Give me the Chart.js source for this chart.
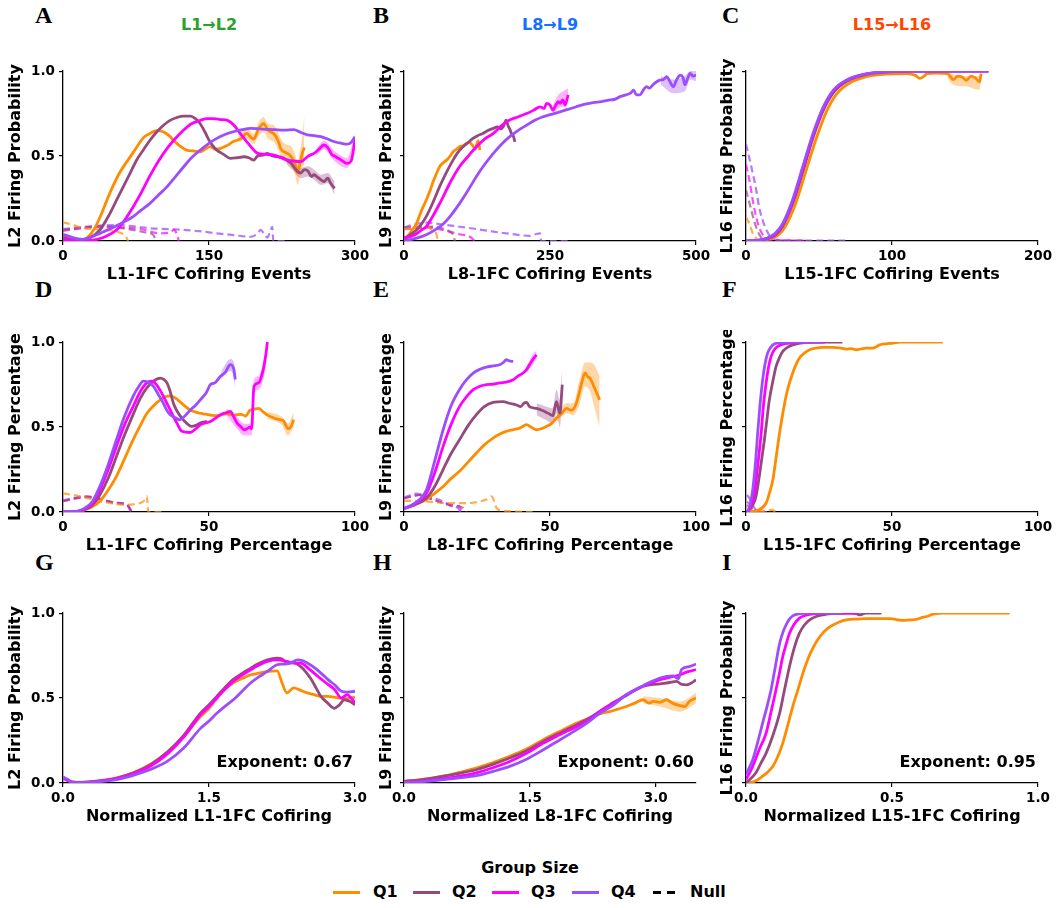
<!DOCTYPE html>
<html>
<head>
<meta charset="utf-8">
<script src="https://cdn.jsdelivr.net/npm/chart.js@4.4.0/dist/chart.umd.min.js"></script>
<style>
body { margin:0; background:#fff; }
#fig { position:relative; width:1058px; height:908px; overflow:hidden; font-family:'DejaVu Sans'; }
canvas { position:absolute; }
.let { position:absolute; font-family:'Liberation Serif'; font-weight:bold; font-size:24px; line-height:24px; }
.col { position:absolute; top:17px; font-weight:bold; font-size:16px; line-height:16px; transform:translateX(-50%); }
.txt { position:absolute; font-weight:bold; font-size:16px; line-height:16px; }
.ls { position:absolute; top:891px; height:3px; width:27px; }
.dash { position:absolute; top:891px; height:3px; width:8px; background:#000; }
</style>
</head>
<body>
<div id="fig">
  <div class="let" style="left:35px;top:3px">A</div>
  <div class="let" style="left:373px;top:3px">B</div>
  <div class="let" style="left:722px;top:3px">C</div>
  <div class="let" style="left:35px;top:277px">D</div>
  <div class="let" style="left:373px;top:277px">E</div>
  <div class="let" style="left:722px;top:277px">F</div>
  <div class="let" style="left:35px;top:550px">G</div>
  <div class="let" style="left:373px;top:550px">H</div>
  <div class="let" style="left:722px;top:550px">I</div>

  <div class="col" style="left:209px;color:#2ca02c">L1→L2</div>
  <div class="col" style="left:550px;color:#1570ff">L8→L9</div>
  <div class="col" style="left:892px;color:#ff4500">L15→L16</div>

  <div class="txt" style="left:530px;top:860px;transform:translateX(-50%)">Group Size</div>
  <div class="ls" style="left:333px;background:#ff8c00"></div>
  <div class="txt" style="left:373px;top:884px">Q1</div>
  <div class="ls" style="left:413px;background:#954a7d"></div>
  <div class="txt" style="left:452px;top:884px">Q2</div>
  <div class="ls" style="left:492px;background:#ff00ff"></div>
  <div class="txt" style="left:531px;top:884px">Q3</div>
  <div class="ls" style="left:572px;background:#9b4dff"></div>
  <div class="txt" style="left:611px;top:884px">Q4</div>
  <div class="dash" style="left:653px"></div>
  <div class="dash" style="left:667px"></div>
  <div class="txt" style="left:690px;top:884px">Null</div>
</div>
<script>
// group colours Q1..Q4
const COLORS = ['#ff8c00', '#954a7d', '#ff00ff', '#9b4dff'];
const NULL_COLORS = ['rgba(255,140,0,0.7)', 'rgba(149,74,125,0.7)', 'rgba(255,0,255,0.7)', 'rgba(155,77,255,0.75)'];
const BAND_COLORS = ['rgba(255,140,0,0.35)', 'rgba(149,74,125,0.35)', 'rgba(255,0,255,0.3)', 'rgba(155,77,255,0.35)'];

// ---- A: L1->L2 cofiring events
const aQ1 = [[0,0.03],[8,0.01],[15,0.0],[25,0.02],[32,0.07],[38,0.14],[48,0.28],[58,0.40],[66,0.47],[72,0.52],[83,0.61],[90,0.635],[96,0.65],[103,0.643],[109,0.62],[114,0.59],[120,0.56],[127,0.535],[134,0.53],[141,0.525],[146,0.54],[151,0.555],[157,0.54],[162,0.545],[168,0.56],[175,0.585],[182,0.6],[189,0.633],[193,0.61],[196,0.6],[201,0.66],[206,0.69],[211,0.65],[217,0.63],[221,0.59],[224,0.54],[229,0.52],[234,0.5],[238,0.46],[241,0.4],[244,0.47],[246,0.52],[248,0.55]];
const aQ2 = [[0,0.02],[15,0.0],[28,0.02],[38,0.065],[48,0.16],[55,0.24],[62,0.32],[69,0.4],[76,0.48],[83,0.54],[89,0.59],[96,0.64],[103,0.68],[110,0.71],[117,0.727],[124,0.735],[131,0.735],[136,0.72],[141,0.69],[146,0.64],[150,0.594],[154,0.56],[158,0.535],[165,0.51],[172,0.486],[179,0.49],[186,0.496],[191,0.49],[196,0.476],[200,0.5],[205,0.505],[210,0.516],[215,0.5],[220,0.496],[226,0.49],[231,0.47],[234,0.46],[237,0.437],[241,0.41],[244,0.4],[248,0.42],[252,0.41],[255,0.38],[258,0.39],[261,0.378],[265,0.36],[268,0.35],[272,0.37],[275,0.34],[279,0.31]];
const aQ3 = [[0,0.01],[15,0.0],[35,0.01],[45,0.03],[55,0.065],[63,0.12],[72,0.2],[80,0.28],[89,0.38],[98,0.47],[107,0.545],[115,0.6],[124,0.653],[132,0.69],[141,0.71],[148,0.72],[155,0.72],[162,0.715],[169,0.71],[176,0.68],[182,0.633],[188,0.59],[193,0.555],[197,0.53],[200,0.516],[208,0.51],[217,0.506],[224,0.49],[231,0.476],[238,0.47],[244,0.467],[248,0.48],[252,0.5],[258,0.516],[263,0.54],[268,0.565],[272,0.55],[276,0.51],[279,0.5],[285,0.48],[292,0.457],[296,0.47],[300,0.594]];
const aQ4 = [[0,0.04],[10,0.02],[20,0.01],[30,0.025],[38,0.045],[55,0.09],[72,0.143],[80,0.18],[89,0.22],[98,0.27],[107,0.32],[115,0.375],[124,0.437],[132,0.49],[141,0.535],[150,0.575],[158,0.604],[167,0.628],[175,0.643],[184,0.655],[193,0.663],[202,0.66],[210,0.657],[218,0.655],[227,0.653],[237,0.655],[244,0.64],[251,0.624],[258,0.62],[265,0.614],[272,0.6],[279,0.584],[286,0.575],[292,0.57],[296,0.58],[300,0.614]];
const aN1 = [[0,0.11],[10,0.095],[21,0.075],[32,0.07],[45,0.065],[58,0.05],[64,0.03],[67,0.0]];
const aN2 = [[0,0.065],[15,0.075],[38,0.085],[55,0.08],[72,0.065],[85,0.05],[92,0.04],[96,0.0]];
const aN3 = [[0,0.06],[20,0.075],[38,0.085],[60,0.08],[80,0.07],[100,0.045],[110,0.05],[114,0.065],[117,0.04],[119,0.0]];
const aN4 = [[0,0.07],[25,0.085],[55,0.094],[75,0.085],[89,0.075],[110,0.07],[124,0.065],[140,0.058],[158,0.045],[175,0.035],[193,0.025],[200,0.045],[203,0.065],[207,0.04],[210,0.02],[213,0.06],[215,0.084],[216,0.0],[231,0.0]];
// error bands: [x, low, high]
const aB1 = [[180,0.58,0.64],[189,0.6,0.67],[196,0.57,0.63],[201,0.62,0.7],[206,0.64,0.73],[211,0.6,0.69],[217,0.58,0.68],[221,0.54,0.64],[224,0.49,0.6],[229,0.47,0.57],[234,0.44,0.56],[238,0.4,0.52],[241,0.33,0.47],[244,0.4,0.55],[246,0.44,0.62],[248,0.45,0.75]];
const aB2 = [[230,0.45,0.49],[237,0.41,0.47],[244,0.37,0.43],[252,0.38,0.44],[258,0.36,0.42],[265,0.33,0.39],[272,0.34,0.4],[279,0.27,0.35]];
const aB3 = [[260,0.5,0.54],[268,0.54,0.59],[279,0.47,0.53],[292,0.43,0.49],[300,0.56,0.63]];

// ---- B: L8->L9 cofiring events
const bQ1 = [[0,0.02],[5,0.025],[10,0.045],[15,0.07],[21,0.10],[30,0.18],[38,0.24],[45,0.30],[50,0.35],[56,0.40],[61,0.437],[67,0.46],[73,0.476],[79,0.50],[84,0.525],[90,0.54],[95,0.555],[101,0.56],[107,0.575],[112,0.58],[118,0.56],[122,0.54],[125,0.575],[127,0.59],[130,0.535]];
const bQ2 = [[0,0.01],[10,0.035],[20,0.06],[30,0.1],[38,0.143],[50,0.23],[61,0.32],[72,0.40],[84,0.476],[92,0.52],[101,0.555],[110,0.58],[118,0.604],[126,0.62],[135,0.633],[144,0.65],[153,0.663],[160,0.672],[165,0.66],[170,0.673],[175,0.712],[178,0.68],[181,0.66],[184,0.633],[187,0.62],[190,0.584]];
const bQ3 = [[0,0.02],[10,0.025],[20,0.04],[30,0.065],[38,0.084],[50,0.15],[58,0.2],[67,0.26],[80,0.35],[95,0.437],[110,0.5],[124,0.555],[138,0.6],[153,0.633],[167,0.68],[181,0.712],[195,0.73],[210,0.75],[222,0.77],[233,0.79],[240,0.78],[244,0.81],[250,0.8],[255,0.77],[260,0.8],[264,0.82],[267,0.81],[272,0.83],[276,0.8],[281,0.86]];
const bQ4 = [[0,0.0],[20,0.015],[40,0.04],[55,0.07],[67,0.10],[80,0.15],[95,0.22],[110,0.30],[124,0.38],[138,0.45],[153,0.516],[167,0.57],[181,0.614],[195,0.65],[210,0.682],[224,0.71],[238,0.731],[252,0.745],[267,0.76],[281,0.775],[295,0.79],[310,0.805],[324,0.815],[338,0.82],[353,0.83],[362,0.835],[370,0.85],[380,0.86],[388,0.87],[393,0.888],[398,0.86],[404,0.86],[410,0.89],[415,0.908],[420,0.9],[428,0.925],[438,0.947],[444,0.95],[450,0.967],[455,0.94],[461,0.908],[467,0.95],[473,0.976],[478,0.96],[481,0.92],[485,0.95],[490,0.986],[495,0.97],[500,0.976]];
const bN1 = [[0,0.07],[15,0.075],[30,0.082],[38,0.084],[48,0.065],[55,0.045],[58,0.0]];
const bN2 = [[0,0.08],[20,0.085],[50,0.084],[65,0.075],[78,0.055],[85,0.03],[87,0.0]];
const bN3 = [[0,0.07],[20,0.075],[38,0.08],[60,0.07],[78,0.055],[95,0.04],[113,0.025],[121,0.0]];
const bN4 = [[0,0.08],[20,0.1],[38,0.108],[60,0.1],[95,0.084],[125,0.07],[153,0.055],[175,0.045],[198,0.035],[215,0.03],[225,0.04],[233,0.045],[235,0.0],[281,0.0]];
const bB3 = [[255,0.74,0.8],[264,0.78,0.86],[272,0.79,0.88],[281,0.82,0.9]];
const bB4 = [[440,0.92,0.97],[461,0.87,0.95],[481,0.88,0.97],[490,0.95,1.0],[500,0.94,1.0]];

// ---- C: L15->L16 cofiring events
const cQ1 = [[0,0.0],[10,0.003],[16,0.012],[22,0.035],[27,0.085],[34,0.22],[41,0.41],[48,0.6],[55,0.76],[62,0.865],[71,0.93],[84,0.97],[96,0.982],[110,0.985],[116,0.975],[119,0.957],[122,0.97],[124,0.985],[130,0.988],[138,0.985],[142,0.95],[145,0.97],[148,0.965],[151,0.945],[154,0.97],[157,0.96],[160,0.937],[161,0.985]];
const cQ2 = [[0,0.0],[7,0.002],[14,0.012],[20,0.035],[25,0.085],[32,0.22],[39,0.41],[46,0.61],[53,0.77],[60,0.875],[69,0.94],[82,0.98],[96,0.995],[110,0.999],[166,1.0]];
const cQ3 = [[0,0.0],[7,0.003],[14,0.014],[20,0.04],[25,0.095],[32,0.235],[39,0.43],[46,0.625],[53,0.785],[60,0.885],[69,0.946],[82,0.982],[96,0.996],[110,1.0],[166,1.0]];
const cQ4 = [[0,0.0],[7,0.003],[14,0.016],[20,0.045],[25,0.10],[32,0.245],[39,0.44],[46,0.635],[53,0.79],[60,0.89],[69,0.948],[82,0.983],[96,0.996],[110,1.0],[166,1.0]];
const cN1 = [[0,0.14],[2.5,0.1],[4.6,0.045],[7,0.015],[8,0.0]];
const cN2 = [[0,0.3],[2.5,0.22],[4.6,0.15],[7,0.08],[9,0.04],[12,0.01],[25,0.0]];
const cN3 = [[0,0.45],[2.5,0.35],[4.6,0.24],[7,0.14],[9,0.08],[12,0.03],[15,0.01],[40,0.002]];
const cN4 = [[0,0.57],[2.5,0.48],[4.6,0.40],[7,0.3],[9,0.2],[11.5,0.12],[14,0.065],[18,0.015],[25,0.005],[70,0.002]];
const cB1 = [[138,0.96,1.0],[142,0.92,0.98],[151,0.91,0.97],[160,0.89,0.97],[161,0.95,1.0]];

// ---- D: L1->L2 cofiring percentage
const dQ1 = [[0,0.0],[5,0.002],[7,0.01],[10,0.03],[12.6,0.063],[15.5,0.13],[18.3,0.21],[21,0.31],[24,0.425],[26.5,0.51],[28.7,0.58],[31,0.625],[33.3,0.66],[35,0.678],[36.7,0.684],[38.5,0.67],[40,0.65],[42,0.62],[43.6,0.6],[46,0.585],[48,0.578],[50.5,0.57],[52.8,0.567],[54.5,0.575],[56,0.578],[58.5,0.57],[61,0.575],[62.5,0.565],[64,0.598],[65.5,0.605],[67,0.61],[68.5,0.59],[70,0.57],[72,0.555],[73.4,0.547],[75,0.54],[75.7,0.533],[76.3,0.51],[77,0.49],[78,0.5],[79,0.543]];
const dQ2 = [[0,0.0],[5,0.003],[7,0.012],[10,0.04],[12.6,0.1],[15.5,0.2],[18.3,0.327],[21,0.45],[24,0.573],[26.5,0.67],[28.7,0.73],[31,0.77],[33.3,0.788],[34.5,0.78],[35.6,0.76],[36.7,0.71],[37.8,0.64],[39.2,0.59],[40.7,0.553],[42.5,0.52],[44,0.504],[45.5,0.51],[47,0.524],[49.3,0.533]];
const dQ3 = [[0,0.0],[5,0.004],[7,0.015],[10,0.05],[12.6,0.13],[15.5,0.25],[18.3,0.386],[21,0.51],[24,0.62],[26.5,0.71],[28.7,0.76],[30.3,0.77],[32,0.75],[33.8,0.7],[35.6,0.64],[37.3,0.58],[39,0.523],[40.7,0.475],[43.6,0.468],[45.5,0.49],[47,0.513],[50.5,0.533],[54,0.573],[56,0.585],[57.3,0.592],[58.5,0.56],[59.6,0.524],[61,0.5],[62,0.484],[63,0.49],[64,0.5],[64.6,0.49],[65.4,0.74],[67,0.76],[68,0.8],[68.8,0.857],[69.5,0.93],[70,1.0]];
const dQ4 = [[0,0.0],[5,0.005],[7,0.018],[10,0.06],[12.6,0.15],[15.5,0.28],[18.3,0.425],[21,0.56],[24,0.68],[26,0.74],[27.5,0.77],[29,0.765],[31,0.74],[32.7,0.69],[34.4,0.64],[35.5,0.6],[36.7,0.573],[38.5,0.555],[40,0.543],[42,0.57],[43.6,0.6],[45.5,0.63],[47,0.66],[49,0.7],[50.5,0.75],[52,0.76],[54,0.8],[55.5,0.82],[57.3,0.867],[58.5,0.84],[59,0.78]];
const dN1 = [[0,0.11],[5,0.095],[10,0.075],[12.6,0.063],[17,0.05],[21.8,0.043],[24,0.045],[26.4,0.053],[28,0.07],[28.7,0.092],[29.2,0.0],[35,0.0]];
const dN2 = [[0,0.065],[4,0.08],[8,0.09],[12,0.08],[15,0.065],[18.3,0.053],[21.8,0.045],[23.5,0.0]];
const dN3 = [[0,0.063],[4,0.078],[8,0.088],[12,0.078],[15,0.064],[18.3,0.052],[21.8,0.044],[23.3,0.0]];
const dN4 = [[0,0.068],[4,0.083],[8,0.092],[12,0.082],[15,0.066],[18.3,0.055],[21.8,0.046],[23.7,0.0]];
const dB1 = [[70,0.55,0.59],[75,0.51,0.56],[77,0.45,0.52],[79,0.5,0.59]];
const dB3 = [[56,0.57,0.61],[59.6,0.49,0.56],[62,0.45,0.52],[64.6,0.45,0.52],[65.4,0.7,0.78],[67,0.72,0.8],[68.8,0.8,0.9],[70,0.96,1.0]];
const dB4 = [[54,0.78,0.82],[57.3,0.83,0.9],[58.5,0.79,0.88],[59,0.72,0.83]];

// ---- E: L8->L9 cofiring percentage
const eQ1 = [[0,0.02],[4,0.045],[7.7,0.073],[10.5,0.11],[13.4,0.15],[16,0.195],[19,0.24],[22,0.295],[24.8,0.347],[27.5,0.395],[30.5,0.435],[33,0.46],[35,0.475],[37.5,0.485],[39.7,0.494],[42,0.514],[43.5,0.5],[45.4,0.484],[47,0.49],[48.8,0.504],[50.5,0.52],[52.2,0.553],[54,0.58],[55.7,0.61],[57,0.6],[58,0.605],[59,0.64],[60,0.7],[61,0.77],[62,0.818],[63,0.795],[63.7,0.788],[65,0.74],[66,0.7],[67,0.66]];
const eQ2 = [[0,0.02],[4,0.045],[7.7,0.082],[10.5,0.15],[13.4,0.25],[16,0.34],[19,0.425],[22,0.51],[24.8,0.573],[27.5,0.62],[30.5,0.645],[34,0.65],[36,0.64],[38.5,0.63],[40,0.62],[41,0.64],[42,0.645],[43,0.62],[45.4,0.61],[47,0.6],[48.8,0.586],[50,0.575],[51,0.567],[51.5,0.6],[52.2,0.65],[53,0.6],[53.4,0.582],[54.2,0.75]];
const eQ3 = [[0,0.02],[4,0.05],[7.7,0.11],[10.5,0.23],[13.4,0.386],[16,0.51],[19,0.62],[21.5,0.68],[23.7,0.72],[26,0.74],[28.2,0.75],[30.5,0.752],[32.8,0.76],[35,0.765],[37.4,0.778],[39,0.8],[40.8,0.818],[42,0.84],[43,0.867],[44.2,0.9],[45.4,0.925]];
const eQ4 = [[0,0.02],[4,0.055],[7.7,0.13],[10.5,0.3],[13.4,0.484],[16,0.62],[19,0.72],[21.5,0.78],[23.7,0.818],[26,0.84],[28.2,0.853],[30.5,0.86],[32.8,0.867],[34,0.88],[35,0.896],[36,0.89],[37.4,0.886]];
const eN1 = [[0,0.065],[5,0.065],[9,0.06],[13.4,0.053],[18,0.052],[22.5,0.053],[26,0.062],[28.2,0.073],[30,0.092],[31.7,0.024],[32.8,0.01],[44,0.0]];
const eN2 = [[0,0.08],[5.4,0.1],[9,0.08],[13.4,0.053],[17,0.04],[20.2,0.024],[21.4,0.0]];
const eN3 = [[0,0.08],[5.4,0.1],[9,0.078],[13.4,0.053],[17,0.035],[19,0.033],[19.7,0.0]];
const eN4 = [[0,0.085],[4.2,0.108],[8,0.09],[13.4,0.063],[17,0.03],[18.5,0.024],[19.2,0.0]];
const eB1 = [[52.2,0.53,0.58],[55.7,0.58,0.64],[58,0.57,0.64],[60,0.63,0.77],[62,0.74,0.88],[63.7,0.71,0.88],[65,0.63,0.87],[67,0.5,0.8]];
const eB2 = [[45.4,0.57,0.64],[48.8,0.54,0.62],[51,0.52,0.61],[52.2,0.58,0.72],[53.4,0.5,0.66],[54.2,0.68,0.85]];
const eB3 = [[42,0.82,0.86],[43,0.84,0.89],[44.2,0.87,0.93],[45.4,0.9,0.95]];

// ---- F: L15->L16 cofiring percentage
const fQ1 = [[1,0.0],[4,0.01],[6.9,0.053],[8,0.11],[9.2,0.19],[10.3,0.32],[11.5,0.465],[12.6,0.58],[13.7,0.68],[14.8,0.755],[16,0.818],[17.2,0.87],[18.3,0.906],[20,0.935],[21.8,0.955],[24,0.965],[26.3,0.969],[29.8,0.969],[32,0.966],[34.4,0.959],[36,0.962],[37.8,0.955],[39.5,0.96],[41.2,0.965],[43.5,0.965],[45.8,0.984],[48,0.99],[50.4,0.994],[52.7,1.0],[67.4,1.0]];
const fQ2 = [[0.5,0.0],[2.3,0.04],[3.4,0.09],[4.8,0.24],[6.3,0.425],[7.2,0.55],[8,0.66],[9.2,0.77],[10.3,0.857],[11.5,0.91],[12.6,0.945],[14.3,0.97],[16,0.984],[20.6,0.998],[25,1.0],[33,1.0]];
const fQ3 = [[0.5,0.0],[2,0.05],[2.9,0.11],[4,0.27],[5.2,0.465],[6,0.63],[6.9,0.76],[7.7,0.85],[8.6,0.916],[9.7,0.955],[10.9,0.975],[12.6,0.988],[14.9,0.994],[18,1.0],[27,1.0]];
const fQ4 = [[0.5,0.0],[1.5,0.05],[2.3,0.13],[3.2,0.28],[4,0.465],[4.8,0.63],[5.7,0.778],[6.5,0.87],[7.4,0.935],[8.3,0.965],[9.2,0.984],[10.9,0.995],[12.6,0.998],[16,1.0],[26,1.0]];
const fN1 = [[0.3,0.01],[4,0.005],[8,0.01],[9,0.012],[10,0.003],[11,0.0]];
const fN2 = [[0.3,0.04],[1.5,0.03],[2.5,0.01],[4,0.0]];
const fN3 = [[0.3,0.06],[1.2,0.05],[2.3,0.03],[3.5,0.008],[5,0.0]];
const fN4 = [[0.3,0.1],[1.2,0.08],[2.3,0.04],[3.5,0.01],[5,0.0],[8,0.0]];

// ---- G: L1->L2 normalized cofiring
const gQ1 = [[0,0.03],[0.05,0.015],[0.1,0.005],[0.2,0.005],[0.38,0.014],[0.55,0.03],[0.72,0.06],[0.9,0.11],[1.07,0.18],[1.24,0.275],[1.41,0.39],[1.5,0.44],[1.58,0.5],[1.66,0.55],[1.75,0.59],[1.84,0.615],[1.93,0.637],[2.0,0.645],[2.1,0.657],[2.2,0.66],[2.25,0.59],[2.3,0.53],[2.37,0.56],[2.44,0.545],[2.51,0.53],[2.58,0.52],[2.65,0.51],[2.72,0.51],[2.79,0.505],[2.86,0.5],[2.92,0.5],[3.0,0.505]];
const gQ2 = [[0,0.03],[0.05,0.015],[0.1,0.005],[0.2,0.004],[0.38,0.012],[0.55,0.028],[0.72,0.058],[0.9,0.108],[1.07,0.18],[1.24,0.28],[1.41,0.41],[1.5,0.46],[1.58,0.51],[1.66,0.56],[1.75,0.61],[1.84,0.645],[1.93,0.676],[2.0,0.7],[2.1,0.725],[2.2,0.735],[2.25,0.73],[2.3,0.706],[2.36,0.71],[2.44,0.686],[2.5,0.65],[2.55,0.61],[2.6,0.56],[2.65,0.51],[2.72,0.47],[2.79,0.44],[2.84,0.46],[2.89,0.49],[2.95,0.48],[3.0,0.46]];
const gQ3 = [[0,0.03],[0.05,0.015],[0.1,0.004],[0.2,0.004],[0.38,0.011],[0.55,0.026],[0.72,0.054],[0.9,0.1],[1.07,0.17],[1.24,0.27],[1.41,0.4],[1.5,0.45],[1.58,0.5],[1.66,0.55],[1.75,0.598],[1.84,0.635],[1.93,0.667],[2.0,0.69],[2.1,0.716],[2.2,0.725],[2.3,0.716],[2.37,0.705],[2.44,0.706],[2.53,0.67],[2.62,0.627],[2.7,0.59],[2.79,0.55],[2.86,0.5],[2.92,0.52],[2.96,0.5],[3.0,0.47]];
const gQ4 = [[0,0.035],[0.05,0.02],[0.1,0.005],[0.2,0.003],[0.38,0.008],[0.55,0.02],[0.72,0.045],[0.9,0.08],[1.07,0.127],[1.24,0.206],[1.41,0.32],[1.5,0.365],[1.58,0.41],[1.66,0.45],[1.75,0.49],[1.84,0.54],[1.93,0.59],[2.0,0.62],[2.1,0.657],[2.2,0.696],[2.27,0.7],[2.34,0.706],[2.41,0.725],[2.46,0.72],[2.51,0.706],[2.58,0.68],[2.65,0.647],[2.72,0.61],[2.79,0.578],[2.86,0.54],[2.92,0.535],[3.0,0.54]];

// ---- H: L8->L9 normalized cofiring
const hQ1 = [[0,0.01],[0.2,0.02],[0.47,0.04],[0.66,0.062],[0.86,0.088],[1.06,0.12],[1.26,0.157],[1.46,0.2],[1.66,0.255],[1.86,0.305],[2.06,0.353],[2.25,0.39],[2.35,0.41],[2.45,0.42],[2.55,0.435],[2.65,0.45],[2.75,0.47],[2.85,0.49],[2.92,0.47],[2.97,0.48],[3.05,0.475],[3.13,0.49],[3.2,0.47],[3.29,0.455],[3.35,0.45],[3.4,0.48],[3.48,0.5]];
const hQ2 = [[0,0.01],[0.2,0.018],[0.47,0.04],[0.66,0.057],[0.86,0.078],[1.06,0.11],[1.26,0.147],[1.46,0.19],[1.66,0.245],[1.86,0.295],[2.06,0.343],[2.25,0.395],[2.45,0.46],[2.65,0.515],[2.85,0.57],[3.05,0.584],[3.15,0.59],[3.25,0.598],[3.31,0.58],[3.37,0.578],[3.43,0.59],[3.48,0.608]];
const hQ3 = [[0,0.005],[0.2,0.01],[0.47,0.025],[0.66,0.04],[0.86,0.06],[1.06,0.09],[1.26,0.127],[1.46,0.175],[1.66,0.235],[1.86,0.285],[2.06,0.333],[2.2,0.37],[2.33,0.42],[2.5,0.47],[2.65,0.52],[2.85,0.57],[3.05,0.608],[3.21,0.627],[3.29,0.637],[3.35,0.65],[3.48,0.667]];
const hQ4 = [[0,0.003],[0.2,0.007],[0.47,0.02],[0.66,0.03],[0.86,0.043],[1.06,0.068],[1.26,0.098],[1.46,0.14],[1.66,0.196],[1.86,0.255],[2.06,0.314],[2.2,0.36],[2.33,0.41],[2.5,0.46],[2.65,0.52],[2.85,0.573],[3.05,0.618],[3.21,0.63],[3.27,0.614],[3.31,0.67],[3.4,0.685],[3.48,0.7]];
const hB1 = [[2.85,0.47,0.51],[3.05,0.45,0.5],[3.29,0.42,0.48],[3.48,0.47,0.53]];

// ---- I: L15->L16 normalized cofiring
const iQ1 = [[0,0.0],[0.03,0.01],[0.057,0.04],[0.075,0.065],[0.092,0.098],[0.11,0.16],[0.126,0.235],[0.143,0.34],[0.16,0.45],[0.178,0.55],[0.195,0.647],[0.212,0.73],[0.229,0.794],[0.246,0.845],[0.263,0.882],[0.28,0.91],[0.298,0.93],[0.32,0.948],[0.344,0.96],[0.38,0.965],[0.412,0.967],[0.45,0.967],[0.493,0.967],[0.515,0.962],[0.538,0.957],[0.56,0.96],[0.584,0.963],[0.6,0.972],[0.619,0.98],[0.641,0.994],[0.676,1.0],[0.903,1.0]];
const iQ2 = [[0,0.0],[0.034,0.06],[0.052,0.12],[0.069,0.176],[0.092,0.28],[0.115,0.41],[0.132,0.55],[0.149,0.686],[0.166,0.8],[0.183,0.882],[0.2,0.93],[0.218,0.96],[0.24,0.98],[0.263,0.99],[0.3,0.998],[0.36,1.0],[0.38,0.995],[0.39,0.99],[0.41,1.0],[0.464,1.0]];
const iQ3 = [[0,0.02],[0.023,0.098],[0.046,0.2],[0.069,0.294],[0.086,0.42],[0.103,0.55],[0.115,0.65],[0.126,0.745],[0.138,0.82],[0.149,0.882],[0.165,0.935],[0.183,0.97],[0.2,0.985],[0.229,0.996],[0.26,1.0],[0.384,1.0]];
const iQ4 = [[0,0.05],[0.023,0.137],[0.04,0.24],[0.057,0.353],[0.072,0.45],[0.086,0.55],[0.1,0.68],[0.115,0.82],[0.126,0.885],[0.137,0.93],[0.148,0.963],[0.16,0.984],[0.18,0.995],[0.206,1.0],[0.33,1.0]];

// small text plugin for the "Exponent" note
const expPlugin = {
    id: 'expText',
    afterDraw(chart, args, opts) {
        if (!opts.text) return;
        const {ctx, chartArea} = chart;
        ctx.save();
        ctx.font = 'bold 16px "DejaVu Sans"';
        ctx.fillStyle = '#000';
        ctx.textAlign = 'right';
        ctx.textBaseline = 'middle';
        ctx.fillText(opts.text, chartArea.right - 2, chartArea.bottom - 20);
        ctx.restore();
    }
};

Chart.defaults.font.family = "'DejaVu Sans'";
Chart.defaults.color = '#000';

const COL_LEFT = [63, 404, 746];
const ROW_TOP = [71, 342, 613];
const YTITLE_PAD = [6.4, 36.4, 35.4];

function toPts(arr) { return arr.map(p => ({x: p[0], y: p[1]})); }

function makePanel(p) {
    const cv = document.createElement('canvas');
    cv.width = 377;
    cv.height = 227;
    cv.style.left = (COL_LEFT[p.col] - 63) + 'px';
    cv.style.top = (ROW_TOP[p.row] - 12) + 'px';
    document.getElementById('fig').appendChild(cv);

    const datasets = [];
    // Q4 first so it is drawn on top
    for (let i = 3; i >= 0; i--) {
        datasets.push({
            data: toPts(p.series[i]),
            borderColor: COLORS[i],
            borderWidth: 2.8,
            pointRadius: 0,
            cubicInterpolationMode: 'monotone',
            fill: false
        });
    }
    // shaded error bands (low line, then high line filled down to it)
    (p.bands || []).forEach(b => {
        const gi = b[0];
        datasets.push({
            data: b[1].map(r => ({x: r[0], y: r[1]})),
            borderWidth: 0,
            borderColor: 'rgba(0,0,0,0)',
            pointRadius: 0,
            cubicInterpolationMode: 'monotone',
            fill: false
        });
        datasets.push({
            data: b[1].map(r => ({x: r[0], y: r[2]})),
            borderWidth: 0,
            borderColor: 'rgba(0,0,0,0)',
            backgroundColor: BAND_COLORS[gi],
            pointRadius: 0,
            cubicInterpolationMode: 'monotone',
            fill: '-1'
        });
    });
    (p.nulls || []).forEach((n, i) => {
        datasets.push({
            data: toPts(n),
            borderColor: NULL_COLORS[i],
            borderWidth: 2.2,
            borderDash: [7, 4],
            pointRadius: 0,
            cubicInterpolationMode: 'monotone',
            fill: false
        });
    });

    const tickFont = {size: 13.5, weight: 'bold'};
    const titleFont = {size: 16, weight: 'bold'};

    new Chart(cv, {
        type: 'line',
        data: {datasets: datasets},
        plugins: [expPlugin],
        options: {
            responsive: false,
            animation: false,
            devicePixelRatio: 1,
            layout: {padding: {top: 12, right: 22, left: 0, bottom: 0}},
            plugins: {
                legend: {display: false},
                tooltip: {enabled: false},
                expText: {text: p.exp || ''}
            },
            scales: {
                x: {
                    type: 'linear',
                    min: 0,
                    max: p.xMax,
                    afterFit: s => { s.height = 45; },
                    grid: {display: true, drawOnChartArea: false, drawTicks: true, tickLength: 4, color: '#000', lineWidth: 1.2},
                    border: {display: true, color: '#000', width: 1.3},
                    ticks: {
                        stepSize: p.xStep,
                        includeBounds: false,
                        autoSkip: false,
                        maxRotation: 0,
                        padding: 3,
                        font: tickFont,
                        callback: v => v.toFixed(p.xDigits)
                    },
                    title: {display: true, text: p.xTitle, font: titleFont, padding: {top: 0, bottom: 2}}
                },
                y: {
                    type: 'linear',
                    min: 0,
                    max: 1,
                    afterFit: s => { s.width = 63; },
                    grid: {display: true, drawOnChartArea: false, drawTicks: true, tickLength: 4, color: '#000', lineWidth: 1.2},
                    border: {display: true, color: '#000', width: 1.3},
                    ticks: {
                        stepSize: 0.5,
                        includeBounds: false,
                        padding: 4,
                        font: tickFont,
                        callback: v => p.col === 0 ? v.toFixed(1) : ''
                    },
                    title: {display: true, text: p.yTitle, font: titleFont, padding: {top: YTITLE_PAD[p.col], bottom: 0}}
                }
            }
        }
    });
}

const panels = [
    {row: 0, col: 0, xMax: 300, xStep: 150, xDigits: 0, xTitle: 'L1-1FC Cofiring Events', yTitle: 'L2 Firing Probability', series: [aQ1, aQ2, aQ3, aQ4], nulls: [aN1, aN2, aN3, aN4], bands: [[0, aB1], [1, aB2], [2, aB3]]},
    {row: 0, col: 1, xMax: 500, xStep: 250, xDigits: 0, xTitle: 'L8-1FC Cofiring Events', yTitle: 'L9 Firing Probability', series: [bQ1, bQ2, bQ3, bQ4], nulls: [bN1, bN2, bN3, bN4], bands: [[2, bB3], [3, bB4]]},
    {row: 0, col: 2, xMax: 200, xStep: 100, xDigits: 0, xTitle: 'L15-1FC Cofiring Events', yTitle: 'L16 Firing Probability', series: [cQ1, cQ2, cQ3, cQ4], nulls: [cN1, cN2, cN3, cN4], bands: [[0, cB1]]},
    {row: 1, col: 0, xMax: 100, xStep: 50, xDigits: 0, xTitle: 'L1-1FC Cofiring Percentage', yTitle: 'L2 Firing Percentage', series: [dQ1, dQ2, dQ3, dQ4], nulls: [dN1, dN2, dN3, dN4], bands: [[0, dB1], [2, dB3], [3, dB4]]},
    {row: 1, col: 1, xMax: 100, xStep: 50, xDigits: 0, xTitle: 'L8-1FC Cofiring Percentage', yTitle: 'L9 Firing Percentage', series: [eQ1, eQ2, eQ3, eQ4], nulls: [eN1, eN2, eN3, eN4], bands: [[0, eB1], [1, eB2], [2, eB3]]},
    {row: 1, col: 2, xMax: 100, xStep: 50, xDigits: 0, xTitle: 'L15-1FC Cofiring Percentage', yTitle: 'L16 Firing Percentage', series: [fQ1, fQ2, fQ3, fQ4], nulls: [fN1, fN2, fN3, fN4]},
    {row: 2, col: 0, xMax: 3, xStep: 1.5, xDigits: 1, xTitle: 'Normalized L1-1FC Cofiring', yTitle: 'L2 Firing Probability', series: [gQ1, gQ2, gQ3, gQ4], exp: 'Exponent: 0.67'},
    {row: 2, col: 1, xMax: 3.48, xStep: 1.5, xDigits: 1, xTitle: 'Normalized L8-1FC Cofiring', yTitle: 'L9 Firing Probability', series: [hQ1, hQ2, hQ3, hQ4], exp: 'Exponent: 0.60', bands: [[0, hB1]]},
    {row: 2, col: 2, xMax: 1, xStep: 0.5, xDigits: 1, xTitle: 'Normalized L15-1FC Cofiring', yTitle: 'L16 Firing Probability', series: [iQ1, iQ2, iQ3, iQ4], exp: 'Exponent: 0.95'}
];

panels.forEach(makePanel);
</script>
</body>
</html>
